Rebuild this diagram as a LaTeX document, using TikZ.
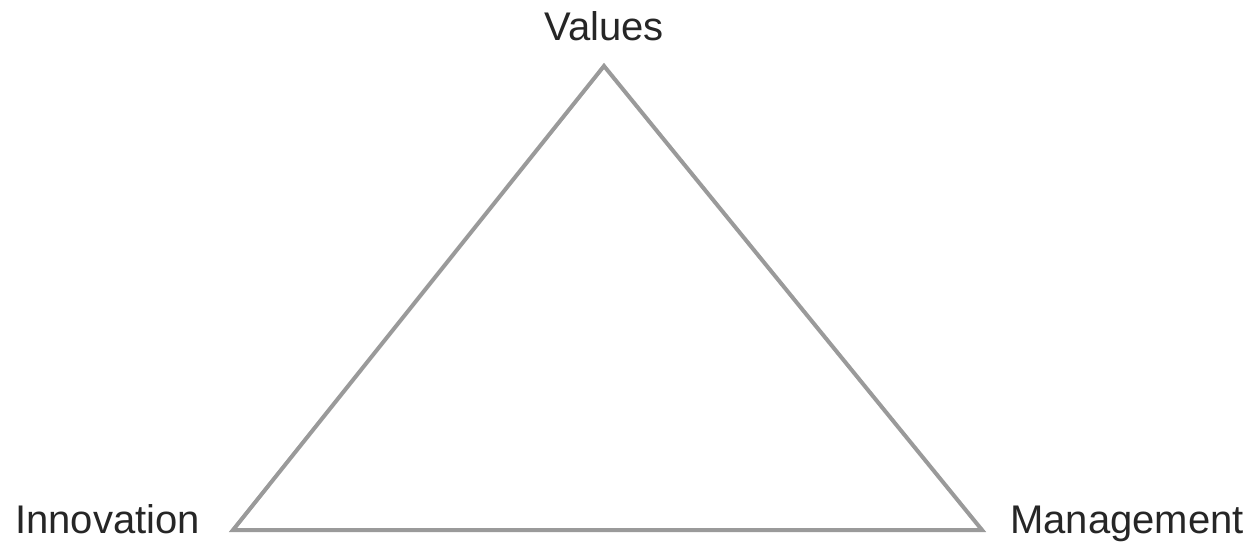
\documentclass[tikz,border=0pt]{standalone}
\usepackage{fontspec}
\setmainfont{Liberation Sans}
\definecolor{edgegray}{HTML}{9A9A9A}
\begin{document}
\begin{tikzpicture}[x=1pt,y=-1pt,
  lbl/.style={font=\fontsize{40}{44}\selectfont, text=black!85, inner sep=0pt},
  edge/.style={draw=edgegray, line width=4pt, line join=miter}]
\useasboundingbox (0,0) rectangle (1248,541);
\coordinate (top) at (604,66);
\coordinate (bl) at (233,530);
\coordinate (br) at (982,530);
\draw[edge] (top) -- (bl) -- (br) -- cycle;
\node[lbl, anchor=base] (values) at (604,40) {Values};
\node[lbl, anchor=base east] (innovation) at (200,533) {Innovation};
\node[lbl, anchor=base west] (management) at (1010,533) {Management};
\end{tikzpicture}
\end{document}
